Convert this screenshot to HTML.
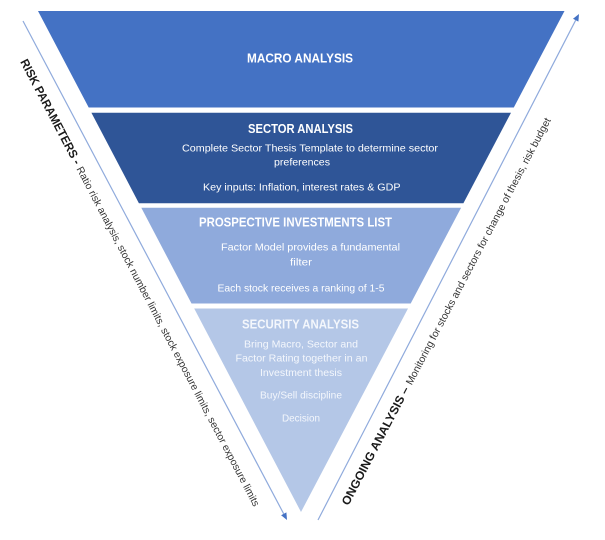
<!DOCTYPE html>
<html>
<head>
<meta charset="utf-8">
<style>
  html, body { margin: 0; padding: 0; background: #ffffff; }
  svg { display: block; }
  text { font-family: "Liberation Sans", Arial, sans-serif; }
</style>
</head>
<body>
<svg width="605" height="540" viewBox="0 0 605 540" xmlns="http://www.w3.org/2000/svg">
  <rect width="605" height="540" fill="#ffffff"/>

  <!-- funnel layers -->
  <polygon points="38,11 564.5,11 513.8,107.5 88.7,107.5" fill="#4472C4"/>
  <polygon points="91.4,112.7 511,112.7 463.4,203.2 138.9,203.2" fill="#2F5597"/>
  <polygon points="141.3,207.7 461.1,207.7 410.7,303.5 191.5,303.5" fill="#8FAADC"/>
  <polygon points="194.2,308.5 408,308.5 301,512" fill="#B4C7E7"/>

  <!-- layer text -->
  <g fill="#ffffff">
    <text x="247" y="62.5" font-size="12.5" font-weight="bold" textLength="106" lengthAdjust="spacingAndGlyphs">MACRO ANALYSIS</text>

    <text x="248" y="133" font-size="12.5" font-weight="bold" textLength="105" lengthAdjust="spacingAndGlyphs">SECTOR ANALYSIS</text>
    <text x="182" y="151.5" font-size="10.5" textLength="256" lengthAdjust="spacingAndGlyphs">Complete  Sector Thesis Template to determine sector</text>
    <text x="274" y="165.5" font-size="10.5" textLength="56" lengthAdjust="spacingAndGlyphs">preferences</text>
    <text x="203" y="190.5" font-size="10.5" textLength="197.5" lengthAdjust="spacingAndGlyphs">Key inputs: Inflation, interest rates &amp; GDP</text>

    <text x="199" y="226.5" font-size="12.5" font-weight="bold" textLength="193" lengthAdjust="spacingAndGlyphs">PROSPECTIVE INVESTMENTS LIST</text>
    <text x="221" y="250.5" font-size="10.5" textLength="179" lengthAdjust="spacingAndGlyphs">Factor Model provides a fundamental</text>
    <text x="290" y="265.5" font-size="10.5" textLength="22" lengthAdjust="spacingAndGlyphs">filter</text>
    <text x="217.5" y="291.5" font-size="10.5" textLength="167" lengthAdjust="spacingAndGlyphs">Each stock receives a ranking of 1-5</text>
  </g>
  <g fill="#F4F7FC">
    <text x="242" y="328.5" font-size="12.5" font-weight="bold" textLength="117" lengthAdjust="spacingAndGlyphs">SECURITY ANALYSIS</text>
    <text x="244" y="347.5" font-size="10.5" textLength="114" lengthAdjust="spacingAndGlyphs">Bring Macro, Sector and</text>
    <text x="235.5" y="361.5" font-size="10.5" textLength="132" lengthAdjust="spacingAndGlyphs">Factor Rating together in an</text>
    <text x="260" y="376" font-size="10.5" textLength="82" lengthAdjust="spacingAndGlyphs">Investment thesis</text>
    <text x="260" y="398.5" font-size="10.5" textLength="82" lengthAdjust="spacingAndGlyphs">Buy/Sell discipline</text>
    <text x="282" y="421.5" font-size="10.5" textLength="38" lengthAdjust="spacingAndGlyphs">Decision</text>
  </g>

  <!-- left arrow -->
  <line x1="23" y1="21" x2="283.7" y2="513.8" stroke="#8FAADC" stroke-width="1.2"/>
  <polygon points="287,520 286.4,512.4 281.1,515.2" fill="#4472C4"/>

  <!-- right arrow -->
  <line x1="318" y1="520" x2="575.7" y2="20.2" stroke="#8FAADC" stroke-width="1.2"/>
  <polygon points="579,14 578.4,21.6 573.0,18.8" fill="#4472C4"/>

  <!-- left rotated text -->
  <g transform="translate(20,61.8) rotate(62.3)">
    <text x="0" y="0" font-size="12" font-weight="bold" fill="#1a1a1a" textLength="117" lengthAdjust="spacingAndGlyphs">RISK PARAMETERS -</text>
    <text x="121" y="0" font-size="10.3" fill="#333333" textLength="382" lengthAdjust="spacingAndGlyphs">Ratio risk analysis, stock number limits, stock exposure limits, sector exposure limits</text>
  </g>

  <!-- right rotated text -->
  <g transform="translate(348.4,506.1) rotate(-62.3)">
    <text x="0" y="0" font-size="12" font-weight="bold" fill="#1a1a1a" textLength="132" lengthAdjust="spacingAndGlyphs">ONGOING ANALYSIS –</text>
    <text x="136" y="0" font-size="10.3" fill="#333333" textLength="300" lengthAdjust="spacingAndGlyphs">Monitoring for stocks and sectors for change of thesis, risk budget</text>
  </g>
</svg>
</body>
</html>
